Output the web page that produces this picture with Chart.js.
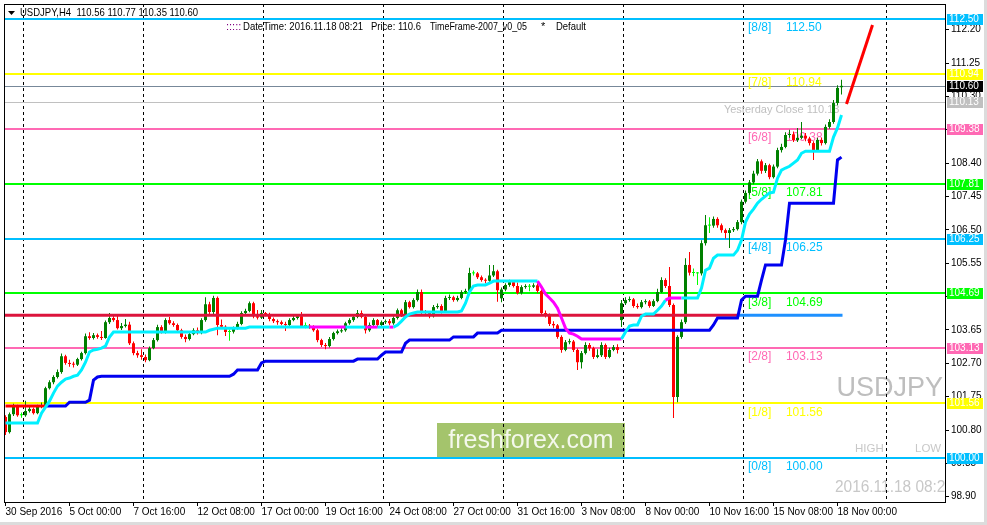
<!DOCTYPE html>
<html>
<head>
<meta charset="utf-8">
<title>USDJPY,H4</title>
<script src="https://cdn.jsdelivr.net/npm/chart.js@4.4.1/dist/chart.umd.min.js"></script>
<style>
  html, body { margin: 0; padding: 0; background: #fff; }
</style>
</head>
<body>
<canvas id="chart" width="987" height="525"></canvas>
<script>
const symbol = 'USDJPY';
const timeframe = 'H4';

// x axis: bar numbers that carry a time label, and the labels
const tickBars = [0, 16, 32, 48, 64, 80, 96, 112, 128, 144, 160, 176, 192, 208];
const timeLabels = ['30 Sep 2016', '5 Oct 00:00', '7 Oct 16:00', '12 Oct 08:00', '17 Oct 00:00',
  '19 Oct 16:00', '24 Oct 08:00', '27 Oct 00:00', '31 Oct 16:00', '3 Nov 08:00',
  '8 Nov 00:00', '10 Nov 16:00', '15 Nov 08:00', '18 Nov 00:00'];
// period separators (bar numbers)
const weekStarts = [4.25, 34.25, 64.25, 94.25, 124.25, 154.25, 184.25, 220];

// price axis ticks
const priceTicks = [98.90, 99.85, 100.80, 101.75, 102.70, 103.65, 104.60, 105.55,
  106.50, 107.45, 108.40, 109.35, 110.30, 111.25, 112.20];

// H4 candles
const opens = [
  101.17, 100.74, 101.25, 101.48, 101.22, 101.22, 101.34, 101.40, 101.28, 101.48,
  101.51, 101.99, 102.16, 102.31, 102.45, 102.90, 102.71, 102.68, 102.66, 102.82,
  102.99, 103.47, 103.42, 103.50, 103.45, 103.42, 103.87, 103.99, 103.93, 103.70,
  103.76, 103.80, 103.27, 102.99, 102.93, 102.88, 102.79, 103.13, 103.36, 103.73,
  103.59, 103.93, 103.84, 103.79, 103.64, 103.45, 103.39, 103.53, 103.64, 103.56,
  103.93, 104.38, 104.16, 104.56, 103.79, 103.74, 103.59, 103.60, 103.70, 103.82,
  104.13, 104.19, 104.41, 104.04, 104.00, 104.13, 104.10, 103.96, 103.90, 103.87,
  103.82, 103.79, 103.93, 103.99, 104.04, 103.76, 103.77, 103.73, 103.64, 103.36,
  103.22, 103.19, 103.39, 103.56, 103.61, 103.64, 103.84, 103.93, 104.02, 104.13,
  104.02, 103.64, 103.79, 103.93, 103.79, 103.87, 103.90, 103.84, 103.99, 104.21,
  104.07, 104.44, 104.30, 104.50, 104.73, 104.16, 104.13, 104.04, 104.30, 104.33,
  104.19, 104.56, 104.58, 104.50, 104.56, 104.73, 104.76, 105.27, 105.26, 105.15,
  105.07, 105.05, 105.20, 105.32, 104.55, 104.80, 104.93, 105.01, 104.90, 104.70,
  104.87, 104.89, 104.88, 104.92, 104.76, 104.13, 104.07, 103.82, 103.78, 103.45,
  103.08, 103.30, 103.32, 103.08, 102.73, 102.99, 103.22, 103.13, 102.88, 102.93,
  103.22, 102.88, 103.08, 103.16, 103.93, 104.41, 104.50, 104.52, 104.33, 104.30,
  104.44, 104.46, 104.33, 104.47, 104.73, 105.07, 104.90, 104.36, 101.74, 103.45,
  103.87, 105.50, 105.28, 105.27, 105.26, 106.12, 106.63, 106.62, 106.81, 106.63,
  106.49, 106.41, 106.49, 106.52, 106.72, 107.30, 107.55, 107.85, 108.10, 108.45,
  108.18, 108.34, 108.00, 108.30, 108.77, 108.86, 109.20, 109.22, 109.05, 109.12,
  109.18, 109.10, 108.97, 108.77, 109.06, 108.97, 109.43, 109.57, 110.11, 110.56
];
const highs = [
  101.22, 101.30, 101.55, 101.52, 101.30, 101.63, 101.46, 101.44, 101.52, 101.58,
  102.03, 102.22, 102.36, 102.52, 102.98, 102.94, 102.80, 102.74, 102.86, 103.03,
  103.55, 103.58, 103.56, 103.55, 103.62, 103.92, 104.13, 104.06, 104.05, 103.85,
  103.96, 103.88, 103.32, 103.06, 103.10, 102.95, 103.18, 103.42, 103.80, 103.78,
  103.98, 104.02, 103.90, 103.83, 103.68, 103.52, 103.58, 103.70, 103.72, 103.98,
  104.58, 104.45, 104.62, 104.60, 103.95, 103.78, 103.66, 103.75, 103.88, 104.18,
  104.25, 104.46, 104.45, 104.22, 104.22, 104.16, 104.14, 104.00, 103.95, 103.92,
  103.88, 103.98, 104.05, 104.10, 104.16, 103.86, 103.82, 103.78, 103.68, 103.40,
  103.28, 103.45, 103.60, 103.66, 103.70, 103.88, 103.98, 104.06, 104.22, 104.20,
  104.06, 103.86, 103.98, 103.96, 103.92, 103.95, 103.96, 104.04, 104.26, 104.25,
  104.50, 104.48, 104.55, 104.80, 104.80, 104.22, 104.18, 104.36, 104.40, 104.38,
  104.62, 104.66, 104.62, 104.62, 104.78, 104.82, 105.42, 105.34, 105.30, 105.20,
  105.12, 105.50, 105.50, 105.36, 104.86, 104.98, 105.08, 105.06, 105.00, 104.92,
  104.95, 104.96, 104.98, 104.98, 104.80, 104.20, 104.12, 103.90, 103.82, 103.50,
  103.36, 103.40, 103.36, 103.12, 103.05, 103.30, 103.28, 103.17, 103.10, 103.30,
  103.26, 103.14, 103.22, 103.24, 104.50, 104.58, 104.60, 104.56, 104.40, 104.50,
  104.52, 104.50, 104.52, 104.82, 105.15, 105.12, 105.44, 104.40, 103.50, 103.95,
  105.69, 105.87, 105.40, 105.30, 106.20, 106.92, 106.86, 106.88, 106.86, 106.68,
  106.54, 106.55, 106.58, 106.78, 107.36, 107.62, 107.92, 108.18, 108.52, 108.50,
  108.40, 108.38, 108.36, 108.84, 108.95, 109.28, 109.35, 109.30, 109.40, 109.57,
  109.26, 109.15, 109.02, 109.12, 109.12, 109.50, 109.65, 110.20, 110.62, 110.77
];
const lows = [
  100.66, 100.70, 101.20, 101.18, 101.15, 101.18, 101.30, 101.24, 101.25, 101.42,
  101.46, 101.95, 102.10, 102.27, 102.40, 102.66, 102.60, 102.58, 102.62, 102.78,
  102.95, 103.37, 103.38, 103.40, 103.36, 103.40, 103.82, 103.88, 103.66, 103.65,
  103.72, 103.22, 102.93, 102.86, 102.80, 102.73, 102.76, 103.10, 103.32, 103.55,
  103.55, 103.80, 103.74, 103.58, 103.40, 103.30, 103.35, 103.50, 103.52, 103.53,
  103.88, 104.10, 104.10, 103.50, 103.68, 103.48, 103.34, 103.55, 103.66, 103.78,
  104.08, 104.15, 103.98, 103.95, 103.96, 104.04, 103.90, 103.85, 103.80, 103.78,
  103.62, 103.75, 103.90, 103.95, 103.72, 103.70, 103.68, 103.60, 103.30, 103.16,
  103.10, 103.15, 103.35, 103.52, 103.57, 103.60, 103.80, 103.88, 103.98, 103.98,
  103.55, 103.60, 103.75, 103.72, 103.75, 103.82, 103.78, 103.80, 103.95, 104.02,
  104.03, 104.26, 104.26, 104.46, 104.10, 104.08, 103.98, 104.00, 104.25, 104.12,
  104.15, 104.50, 104.45, 104.46, 104.52, 104.68, 104.72, 105.20, 105.10, 105.02,
  104.98, 105.02, 105.16, 104.45, 104.44, 104.75, 104.88, 104.86, 104.66, 104.66,
  104.82, 104.75, 104.84, 104.70, 104.08, 104.00, 103.76, 103.70, 103.40, 103.00,
  103.04, 103.24, 103.02, 102.51, 102.55, 102.95, 103.06, 102.82, 102.84, 102.88,
  102.82, 102.84, 103.04, 102.98, 103.73, 104.36, 104.45, 104.28, 104.25, 104.26,
  104.38, 104.28, 104.30, 104.44, 104.70, 104.84, 104.30, 101.14, 101.59, 103.40,
  103.82, 105.20, 105.18, 104.93, 105.20, 106.05, 106.41, 106.56, 106.56, 106.42,
  106.25, 105.98, 106.44, 106.48, 106.66, 107.25, 107.50, 107.80, 108.05, 108.10,
  108.12, 107.94, 107.96, 108.25, 108.70, 108.82, 109.12, 109.00, 109.00, 109.08,
  109.02, 108.90, 108.49, 108.72, 108.90, 108.93, 109.38, 109.52, 110.05, 110.35
];
const closes = [
  100.74, 101.25, 101.48, 101.22, 101.22, 101.34, 101.40, 101.28, 101.48, 101.51,
  101.99, 102.16, 102.31, 102.45, 102.90, 102.71, 102.68, 102.66, 102.82, 102.99,
  103.47, 103.42, 103.50, 103.45, 103.42, 103.87, 103.99, 103.93, 103.70, 103.76,
  103.80, 103.27, 102.99, 102.93, 102.88, 102.79, 103.13, 103.36, 103.73, 103.59,
  103.93, 103.84, 103.79, 103.64, 103.45, 103.39, 103.53, 103.64, 103.56, 103.93,
  104.38, 104.16, 104.56, 103.79, 103.74, 103.59, 103.60, 103.70, 103.82, 104.13,
  104.19, 104.41, 104.04, 104.00, 104.13, 104.10, 103.96, 103.90, 103.87, 103.82,
  103.79, 103.93, 103.99, 104.04, 103.76, 103.77, 103.73, 103.64, 103.36, 103.22,
  103.19, 103.39, 103.56, 103.61, 103.64, 103.84, 103.93, 104.02, 104.13, 104.02,
  103.64, 103.79, 103.93, 103.79, 103.87, 103.90, 103.84, 103.99, 104.21, 104.07,
  104.44, 104.30, 104.50, 104.73, 104.16, 104.13, 104.04, 104.30, 104.33, 104.19,
  104.56, 104.58, 104.50, 104.56, 104.73, 104.76, 105.27, 105.26, 105.15, 105.07,
  105.05, 105.20, 105.32, 104.78, 104.80, 104.93, 105.01, 104.90, 104.70, 104.87,
  104.89, 104.88, 104.92, 104.76, 104.13, 104.07, 103.82, 103.78, 103.45, 103.08,
  103.30, 103.32, 103.08, 102.73, 102.99, 103.22, 103.13, 102.88, 102.93, 103.22,
  102.88, 103.08, 103.16, 103.08, 104.41, 104.50, 104.52, 104.33, 104.30, 104.44,
  104.46, 104.33, 104.47, 104.73, 105.07, 104.90, 104.36, 101.74, 103.45, 103.87,
  105.50, 105.28, 105.27, 105.26, 106.12, 106.63, 106.62, 106.81, 106.63, 106.49,
  106.41, 106.49, 106.52, 106.72, 107.30, 107.55, 107.85, 108.10, 108.45, 108.18,
  108.34, 108.00, 108.30, 108.77, 108.86, 109.20, 109.22, 109.05, 109.12, 109.18,
  109.10, 108.97, 108.77, 109.06, 108.97, 109.43, 109.57, 110.11, 110.54, 110.60
];

// trailing line (cyan / magenta)
const trail = [
  101.00, 101.00, 101.00, 101.00, 101.00, 101.00, 101.00, 101.00, 101.00, 101.28,
  101.45, 101.62, 101.85, 102.05, 102.16, 102.25, 102.28, 102.33, 102.36, 102.51,
  102.73, 103.02, 103.08, 103.10, 103.13, 103.19, 103.45, 103.59, 103.59, 103.59,
  103.59, 103.59, 103.59, 103.59, 103.59, 103.59, 103.59, 103.59, 103.59, 103.59,
  103.59, 103.59, 103.59, 103.59, 103.59, 103.59, 103.59, 103.59, 103.59, 103.59,
  103.59, 103.64, 103.67, 103.70, 103.70, 103.70, 103.70, 103.70, 103.70, 103.70,
  103.70, 103.73, 103.73, 103.73, 103.73, 103.73, 103.73, 103.73, 103.73, 103.73,
  103.73, 103.73, 103.73, 103.73, 103.73, 103.73, 103.73, 103.73, 103.73, 103.73,
  103.73, 103.73, 103.73, 103.73, 103.73, 103.73, 103.73, 103.73, 103.73, 103.73,
  103.73, 103.73, 103.73, 103.73, 103.73, 103.73, 103.73, 103.73, 103.79, 103.90,
  104.02, 104.10, 104.13, 104.16, 104.16, 104.16, 104.16, 104.16, 104.16, 104.16,
  104.16, 104.16, 104.16, 104.16, 104.19, 104.41, 104.73, 104.90, 104.93, 104.93,
  104.93, 104.98, 105.04, 105.04, 105.04, 105.04, 105.04, 105.04, 105.04, 105.04,
  105.04, 105.04, 105.04, 105.04, 104.87, 104.67, 104.56, 104.44, 104.27, 103.99,
  103.70, 103.56, 103.53, 103.47, 103.39, 103.39, 103.39, 103.39, 103.39, 103.39,
  103.39, 103.39, 103.39, 103.39, 103.39, 103.59, 103.76, 103.79, 103.79, 104.04,
  104.10, 104.10, 104.10, 104.21, 104.33, 104.50, 104.56, 104.56, 104.56, 104.56,
  104.56, 104.56, 104.56, 104.56, 104.84, 105.35, 105.41, 105.69, 105.78, 105.78,
  105.78, 105.78, 105.78, 105.92, 106.21, 106.72, 106.95, 107.09, 107.26, 107.37,
  107.46, 107.55, 107.57, 107.97, 108.20, 108.26, 108.31, 108.40, 108.49, 108.68,
  108.74, 108.74, 108.74, 108.74, 108.74, 108.74, 108.74, 109.14, 109.40, 109.77
];
// bar ranges where the trailing line is in its "down" colour
const trailDown = [[76, 85], [90, 93], [96, 97], [133, 154], [165, 169]];

// slower step line (blue, red at the start)
const stopLine = [
  101.48, 101.48, 101.48, 101.48, 101.48, 101.48, 101.48, 101.48, 101.48, 101.48,
  101.48, 101.48, 101.48, 101.48, 101.48, 101.48, 101.59, 101.59, 101.59, 101.59,
  101.59, 101.65, 102.22, 102.31, 102.33, 102.33, 102.33, 102.33, 102.33, 102.33,
  102.33, 102.33, 102.33, 102.33, 102.33, 102.33, 102.33, 102.33, 102.33, 102.33,
  102.33, 102.33, 102.33, 102.33, 102.33, 102.33, 102.33, 102.33, 102.33, 102.33,
  102.33, 102.33, 102.33, 102.33, 102.33, 102.33, 102.33, 102.39, 102.51, 102.51,
  102.51, 102.51, 102.51, 102.51, 102.71, 102.76, 102.76, 102.76, 102.76, 102.76,
  102.76, 102.76, 102.76, 102.76, 102.76, 102.76, 102.76, 102.76, 102.76, 102.76,
  102.76, 102.76, 102.76, 102.76, 102.76, 102.76, 102.76, 102.76, 102.82, 102.82,
  102.82, 102.82, 102.82, 102.82, 102.93, 103.02, 103.02, 103.02, 103.02, 103.02,
  103.27, 103.36, 103.36, 103.36, 103.36, 103.36, 103.36, 103.36, 103.36, 103.36,
  103.36, 103.36, 103.45, 103.45, 103.45, 103.45, 103.45, 103.45, 103.56, 103.56,
  103.56, 103.56, 103.56, 103.56, 103.64, 103.64, 103.64, 103.64, 103.64, 103.64,
  103.64, 103.64, 103.64, 103.64, 103.64, 103.64, 103.64, 103.64, 103.64, 103.64,
  103.64, 103.64, 103.64, 103.64, 103.64, 103.64, 103.64, 103.64, 103.64, 103.64,
  103.64, 103.64, 103.64, 103.64, 103.64, 103.64, 103.64, 103.64, 103.64, 103.64,
  103.64, 103.64, 103.64, 103.64, 103.64, 103.64, 103.64, 103.64, 103.64, 103.64,
  103.64, 103.64, 103.64, 103.64, 103.64, 103.64, 103.64, 103.79, 103.99, 103.99,
  103.99, 103.99, 103.99, 103.99, 104.50, 104.61, 104.61, 104.61, 104.61, 105.07,
  105.50, 105.50, 105.50, 105.50, 105.50, 106.21, 107.26, 107.26, 107.26, 107.26,
  107.26, 107.26, 107.26, 107.26, 107.26, 107.26, 107.26, 107.26, 108.49, 108.57
];
const stopRedUntil = 10;

// Murrey math levels
const mmLevels = [100.00, 101.56, 103.13, 104.69, 106.25, 107.81, 109.38, 110.94, 112.50];
const mmNames = ['[0/8]', '[1/8]', '[2/8]', '[3/8]', '[4/8]', '[5/8]', '[6/8]', '[7/8]', '[8/8]'];
const mmColors = ['#00BFFF', '#FFFF00', '#FF69B4', '#00FF00', '#00BFFF', '#00FF00', '#FF69B4', '#FFFF00', '#00BFFF'];

const yesterdayClose = 110.13;
const keyLevel = 104.07;
const keyLevelBars = [-0.375, 183.25, 209.25];
const projBars = [210.25, 216.75];
const projPrices = [110.08, 112.33];

const FONT = "'Liberation Sans', Arial, sans-serif";
const bars = closes.map((c, i) => i);
const last = closes.length - 1;

function candleColor(i) {
  if (Math.abs(closes[i] - opens[i]) < 0.015) return '#00FF00';
  return closes[i] > opens[i] ? '#008000' : '#FF0000';
}

function isTrailDown(i) {
  return trailDown.some(r => i >= r[0] && i < r[1]);
}

const chartDecor = {
  id: 'chartDecor',
  beforeDraw(chart) {
    const ctx = chart.ctx;
    ctx.save();
    ctx.fillStyle = '#fff';
    ctx.fillRect(0, 0, chart.width, chart.height);
    ctx.restore();
  },
  beforeDatasetsDraw(chart) {
    const { ctx, chartArea: a, scales: { x, y } } = chart;
    const w = a.right - a.left;
    ctx.save();
    ctx.beginPath();
    ctx.rect(a.left, a.top, w, a.bottom - a.top);
    ctx.clip();

    // watermark box
    ctx.fillStyle = '#A4C46C';
    ctx.fillRect(437, 423, 188, 35);
    ctx.fillStyle = '#F4F8EC';
    ctx.font = '25px ' + FONT;
    ctx.textAlign = 'center';
    ctx.textBaseline = 'middle';
    ctx.fillText('freshforex.com', 531, 441);

    // big grey texts
    ctx.fillStyle = '#BEBEBE';
    ctx.font = '27px ' + FONT;
    ctx.textAlign = 'right';
    ctx.textBaseline = 'alphabetic';
    ctx.fillText(symbol, a.right - 2, 396);
    ctx.fillStyle = '#C8C8C8';
    ctx.font = '11.5px ' + FONT;
    ctx.textAlign = 'left';
    ctx.fillText('HIGH', 855, 452);
    ctx.fillText('LOW', 915, 452);
    ctx.font = '16px ' + FONT;
    ctx.fillText('2016.11.18 08:21', 835, 492, 119);

    // period separators
    ctx.strokeStyle = '#000';
    ctx.lineWidth = 1;
    ctx.setLineDash([3, 3]);
    weekStarts.forEach(b => {
      const px = Math.round(x.getPixelForValue(b)) + 0.5;
      ctx.beginPath();
      ctx.moveTo(px, a.top);
      ctx.lineTo(px, a.bottom);
      ctx.stroke();
    });
    ctx.setLineDash([]);

    // level lines
    mmLevels.forEach((v, k) => {
      const py = Math.round(y.getPixelForValue(v));
      ctx.fillStyle = mmColors[k];
      ctx.fillRect(a.left, py - 1, w, 2);
    });
    ctx.fillStyle = '#C0C0C0';
    ctx.fillRect(a.left, Math.round(y.getPixelForValue(yesterdayClose)), w, 1);
    ctx.fillStyle = '#778899';
    ctx.fillRect(a.left, Math.round(y.getPixelForValue(closes[last])), w, 1);

    // level captions
    ctx.font = '12px ' + FONT;
    ctx.textBaseline = 'middle';
    ctx.textAlign = 'left';
    const nameX = x.getPixelForValue(185.6);
    const valX = x.getPixelForValue(195.1);
    mmLevels.forEach((v, k) => {
      const py = y.getPixelForValue(v) + 9;
      ctx.fillStyle = mmColors[k];
      ctx.fillText(mmNames[k], nameX, py);
      ctx.fillText(v.toFixed(2), valX, py);
    });
    ctx.fillStyle = '#C0C0C0';
    ctx.font = '11px ' + FONT;
    ctx.fillText('Yesterday Close ' + yesterdayClose.toFixed(2), x.getPixelForValue(179.6), y.getPixelForValue(yesterdayClose) + 8);
    ctx.restore();
  },
  afterDraw(chart) {
    const { ctx, chartArea: a, scales: { y } } = chart;
    ctx.save();
    // frame
    ctx.strokeStyle = '#000';
    ctx.lineWidth = 1;
    ctx.strokeRect(a.left + 0.5, a.top + 0.5, a.right - a.left, a.bottom - a.top);

    // price tags on the right axis
    const tags = mmLevels.map((v, k) => [v, mmColors[k]]);
    tags.push([yesterdayClose, '#C0C0C0'], [closes[last], '#000000']);
    ctx.font = '10px ' + FONT;
    ctx.textBaseline = 'middle';
    ctx.textAlign = 'left';
    tags.forEach(([v, col]) => {
      const py = Math.round(y.getPixelForValue(v));
      ctx.fillStyle = col;
      ctx.fillRect(a.right + 2, py - 5, 36, 11);
      ctx.fillStyle = '#fff';
      ctx.fillText(v.toFixed(2), a.right + 4, py + 0.5);
    });

    // header
    ctx.fillStyle = '#000';
    ctx.beginPath();
    ctx.moveTo(8, 11); ctx.lineTo(15, 11); ctx.lineTo(11.5, 15); ctx.closePath();
    ctx.fill();
    ctx.font = '11px ' + FONT;
    ctx.fillText(`${symbol},${timeframe}  ${opens[last].toFixed(2)} ${highs[last].toFixed(2)} ${lows[last].toFixed(2)} ${closes[last].toFixed(2)}`, 20, 13, 178);
    ctx.fillStyle = '#800080';
    ctx.fillText(':::::', 226, 27);
    ctx.fillStyle = '#000';
    ctx.fillText('DateTime: 2016.11.18 08:21', 243, 27, 120);
    ctx.fillText('Price: ' + closes[last].toFixed(1), 371, 27, 50);
    ctx.fillText('TimeFrame-2007_v0_05', 430, 27, 97);
    ctx.fillText('*', 541, 27);
    ctx.fillText('Default', 556, 27, 30);

    // window edges
    ctx.fillStyle = '#DCDCDC';
    ctx.fillRect(chart.width - 3, 0, 3, chart.height);
    ctx.fillRect(0, chart.height - 3, chart.width, 3);
    ctx.restore();
  }
};

new Chart(document.getElementById('chart'), {
  type: 'bar',
  data: {
    datasets: [
      {
        type: 'line',
        data: projBars.map((b, k) => ({ x: b, y: projPrices[k] })),
        borderColor: '#FF0000', borderWidth: 3, pointRadius: 0, order: 1
      },
      {
        type: 'line',
        data: trail.map((v, i) => ({ x: i, y: v })),
        borderColor: '#00F0FF', borderWidth: 3, pointRadius: 0, order: 2,
        segment: { borderColor: ctx => isTrailDown(ctx.p0DataIndex) ? '#FF00FF' : '#00F0FF' }
      },
      {
        type: 'line',
        data: stopLine.map((v, i) => ({ x: i, y: v })),
        borderColor: '#0000F0', borderWidth: 3, pointRadius: 0, order: 3,
        segment: { borderColor: ctx => ctx.p0DataIndex < stopRedUntil ? '#FF0000' : '#0000F0' }
      },
      {
        type: 'line',
        data: keyLevelBars.map(b => ({ x: b, y: keyLevel })),
        borderColor: '#DC143C', borderWidth: 3, pointRadius: 0, order: 4,
        segment: { borderColor: ctx => ctx.p0DataIndex === 0 ? '#DC143C' : '#1E90FF' }
      },
      {
        data: bars.map(i => ({ x: i, y: [opens[i], closes[i]] })),
        backgroundColor: ctx => candleColor(ctx.dataIndex),
        barThickness: 3, minBarLength: 1, grouped: false, inflateAmount: 0, borderWidth: 0, order: 5
      },
      {
        data: bars.map(i => ({ x: i, y: [lows[i], highs[i]] })),
        backgroundColor: ctx => candleColor(ctx.dataIndex),
        barThickness: 1, grouped: false, inflateAmount: 0, borderWidth: 0, order: 6
      }
    ]
  },
  options: {
    responsive: false,
    animation: false,
    layout: { padding: { left: 4, top: 4, right: 0, bottom: 0 } },
    plugins: { legend: { display: false }, tooltip: { enabled: false } },
    scales: {
      x: {
        type: 'linear', min: -0.375, max: 234.875, offset: false,
        grid: { offset: false, drawOnChartArea: false, tickLength: 4, color: '#000' },
        border: { color: '#000' },
        ticks: {
          autoSkip: false, maxRotation: 0, align: 'start', padding: 0, color: '#000',
          font: { family: FONT, size: 10 },
          callback: (v, i) => timeLabels[i]
        },
        afterBuildTicks: s => { s.ticks = tickBars.map(v => ({ value: v })); },
        afterFit: s => { s.height = 23; s.paddingLeft = 0; s.paddingRight = 0; }
      },
      y: {
        type: 'linear', position: 'right', min: 98.75, max: 112.93,
        grid: { drawOnChartArea: false, tickLength: 4, color: '#000' },
        border: { color: '#000' },
        ticks: {
          autoSkip: false, padding: 2, color: '#000',
          font: { family: FONT, size: 10 },
          callback: v => v.toFixed(2)
        },
        afterBuildTicks: s => { s.ticks = priceTicks.map(v => ({ value: v })); },
        afterFit: s => { s.width = 42; s.paddingTop = 0; s.paddingBottom = 0; }
      }
    }
  },
  plugins: [chartDecor]
});
</script>
</body>
</html>
